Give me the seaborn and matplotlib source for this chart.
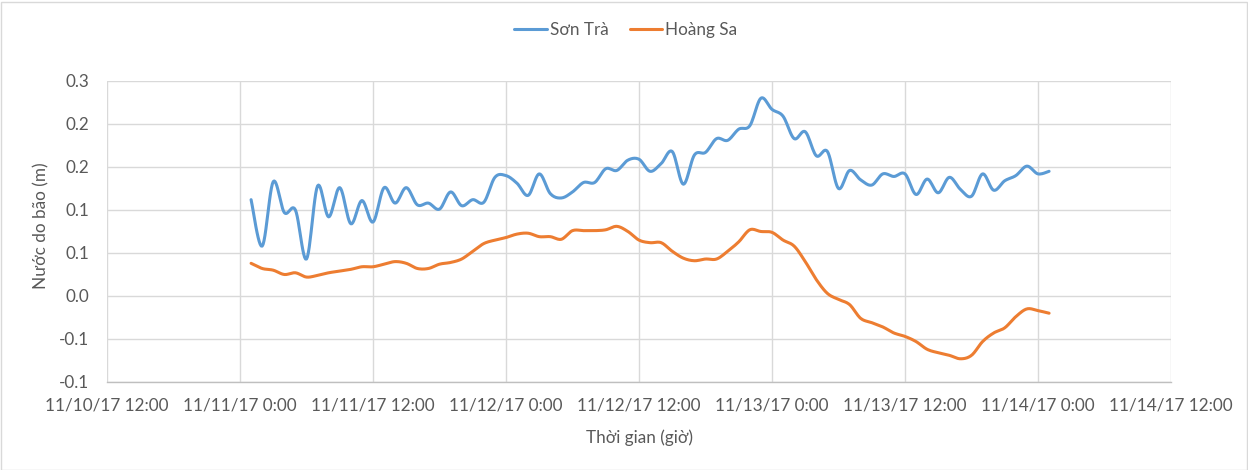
import numpy as np
import pandas as pd
import matplotlib
matplotlib.use("Agg")
import matplotlib.pyplot as plt
import matplotlib.dates as mdates
from matplotlib.patches import Rectangle
import seaborn as sns

# ---- data (hourly, from 11/11/17 01:00 to 11/14/17 01:00) ----
start_time = "2017-11-11 01:00"
son_tra = [0.112, 0.058, 0.133, 0.097, 0.100, 0.043, 0.128, 0.092, 0.126, 0.084,
           0.111, 0.086, 0.126, 0.108, 0.126, 0.106, 0.108, 0.101, 0.121, 0.105,
           0.112, 0.109, 0.138, 0.140, 0.131, 0.117, 0.142, 0.119, 0.114, 0.121,
           0.132, 0.132, 0.148, 0.146, 0.158, 0.159, 0.145, 0.154, 0.168, 0.130,
           0.164, 0.167, 0.183, 0.181, 0.194, 0.198, 0.230, 0.217, 0.209, 0.183,
           0.191, 0.163, 0.168, 0.125, 0.146, 0.135, 0.129, 0.142, 0.139, 0.142,
           0.118, 0.136, 0.120, 0.138, 0.124, 0.116, 0.142, 0.123, 0.134, 0.140,
           0.151, 0.142, 0.145]
hoang_sa = [0.038, 0.032, 0.030, 0.025, 0.027, 0.022, 0.024, 0.027, 0.029, 0.031,
            0.034, 0.034, 0.037, 0.040, 0.038, 0.032, 0.032, 0.037, 0.039, 0.043,
            0.052, 0.061, 0.065, 0.068, 0.072, 0.073, 0.069, 0.069, 0.066, 0.076,
            0.076, 0.076, 0.077, 0.081, 0.075, 0.065, 0.062, 0.062, 0.052, 0.044,
            0.041, 0.043, 0.043, 0.052, 0.063, 0.077, 0.075, 0.074, 0.065, 0.058,
            0.040, 0.019, 0.003, -0.004, -0.010, -0.026, -0.031, -0.036, -0.043, -0.047,
            -0.053, -0.062, -0.066, -0.069, -0.073, -0.069, -0.053, -0.043, -0.037, -0.024,
            -0.015, -0.017, -0.020]
series_names = ["Sơn Trà", "Hoàng Sa"]
x_tick_times = ["2017-11-10 12:00", "2017-11-11 00:00", "2017-11-11 12:00",
                "2017-11-12 00:00", "2017-11-12 12:00", "2017-11-13 00:00",
                "2017-11-13 12:00", "2017-11-14 00:00", "2017-11-14 12:00"]
x_tick_labels = ["11/10/17 12:00", "11/11/17 0:00", "11/11/17 12:00",
                 "11/12/17 0:00", "11/12/17 12:00", "11/13/17 0:00",
                 "11/13/17 12:00", "11/14/17 0:00", "11/14/17 12:00"]
y_ticks = [-0.10, -0.05, 0.00, 0.05, 0.10, 0.15, 0.20, 0.25]
y_tick_labels = ["-0.1", "-0.1", "0.0", "0.1", "0.1", "0.2", "0.2", "0.3"]
x_title = "Thời gian (giờ)"
y_title = "Nước do bão (m)"

colors = ["#5B9BD5", "#ED7D31"]
FONT = ["Lato", "DejaVu Sans"]
TXT = "#595959"
FS = 12.3

times = pd.date_range(start_time, periods=len(son_tra), freq="h")
xnum = mdates.date2num(times.to_pydatetime())


def smooth(x, y, n=12):
    """Excel-like smoothed line rendering (cubic Bezier through the points)."""
    x = np.asarray(x, float); y = np.asarray(y, float)
    px = np.concatenate([[x[0]], x, [x[-1]]])
    py = np.concatenate([[y[0]], y, [y[-1]]])
    t = np.linspace(0, 1, n, endpoint=False)
    outx, outy = [], []
    for i in range(1, len(px) - 2):
        p0x, p1x, p2x, p3x = px[i], px[i] + (px[i+1]-px[i-1])/6, px[i+1] - (px[i+2]-px[i])/6, px[i+1]
        p0y, p1y, p2y, p3y = py[i], py[i] + (py[i+1]-py[i-1])/6, py[i+1] - (py[i+2]-py[i])/6, py[i+1]
        b0 = (1-t)**3; b1 = 3*(1-t)**2*t; b2 = 3*(1-t)*t**2; b3 = t**3
        outx.append(b0*p0x + b1*p1x + b2*p2x + b3*p3x)
        outy.append(b0*p0y + b1*p1y + b2*p2y + b3*p3y)
    outx.append([x[-1]]); outy.append([y[-1]])
    return np.concatenate(outx), np.concatenate(outy)


sns.set_theme(style="white")
plt.rcParams["font.family"] = FONT

fig = plt.figure(figsize=(12.48, 4.70), dpi=100)
ax = fig.add_axes([107/1248, 1-382/470, (1171-107)/1248, (382-81)/470])

for name, vals, c in zip(series_names, [son_tra, hoang_sa], colors):
    sx, sy = smooth(xnum, vals)
    df = pd.DataFrame({"t": sx, "v": sy})
    sns.lineplot(data=df, x="t", y="v", ax=ax, color=c, linewidth=2.2,
                 label=name, sort=False, estimator=None)

xt = mdates.date2num(pd.to_datetime(x_tick_times).to_pydatetime())
ax.set_xlim(xt[0], xt[-1])
ax.set_ylim(-0.10, 0.25)
ax.set_xticks(xt)
ax.set_xticklabels(x_tick_labels)
ax.set_yticks(y_ticks)
ax.set_yticklabels(y_tick_labels)
ax.grid(True, color="#D9D9D9", linewidth=1.0)
ax.set_axisbelow(True)
for s in ["top", "right", "left"]:
    ax.spines[s].set_visible(False)
ax.spines["bottom"].set_color("#BFBFBF")
ax.spines["bottom"].set_linewidth(1.0)
ax.tick_params(axis="both", length=0, labelsize=FS, labelcolor=TXT)
ax.tick_params(axis="x", pad=11)
ax.tick_params(axis="y", pad=13)

ax.set_xlabel("")
ax.set_ylabel("")
fig.text(639/1248, 1-438/470, x_title, ha="center", va="center", fontsize=FS, color=TXT)
fig.text(41/1248, 1-226/470, y_title, ha="center", va="center", rotation=90, fontsize=FS, color=TXT)

leg = ax.legend(loc="center", bbox_to_anchor=(626/1248, 1-30/470), bbox_transform=fig.transFigure,
                ncol=2, frameon=False, fontsize=FS, handlelength=1.9, columnspacing=1.2,
                handletextpad=0.2)
for t in leg.get_texts():
    t.set_color(TXT)

fig.patches.append(Rectangle((0.5/1248, 0.5/470), 1-2/1248, 1-2/470, transform=fig.transFigure,
                             fill=False, edgecolor="#D9D9D9", linewidth=1.0))

fig.savefig("out.png", dpi=100)
